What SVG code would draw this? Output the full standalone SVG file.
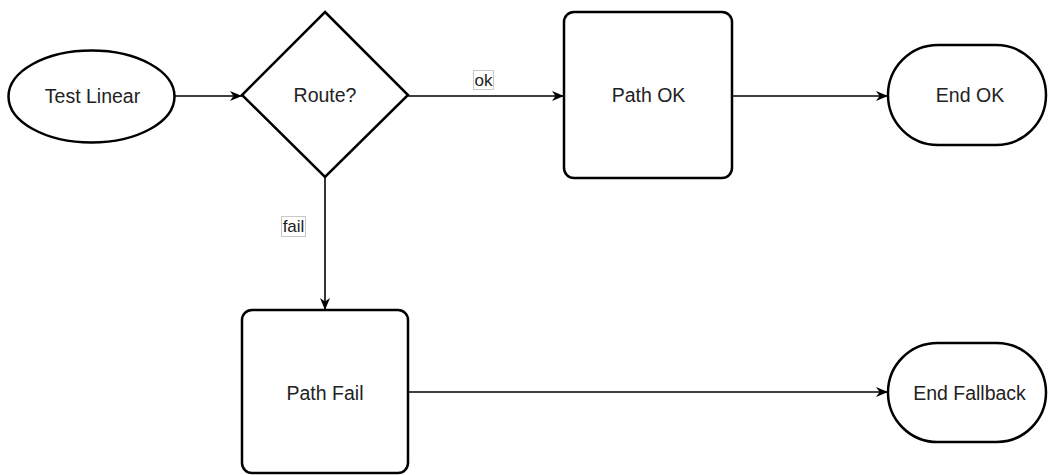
<svg xmlns="http://www.w3.org/2000/svg" width="1048" height="475" viewBox="0 0 1048 475">
  <style>
    .node { fill: #ffffff; stroke: #000000; stroke-width: 2.5; }
    .label { font-family: "Liberation Sans", Arial, Helvetica, sans-serif; font-size: 19.5px; fill: #222222; text-anchor: middle; }
    .edge { fill: none; stroke: #000000; stroke-width: 1.6; }
    .edge-label-bg { fill: #ffffff; stroke: #c8c8c8; stroke-width: 1; }
    .edge-label { font-family: "Liberation Sans", Arial, Helvetica, sans-serif; font-size: 17px; fill: #222222; text-anchor: middle; }
  </style>
  <defs>
    <marker id="arrow" viewBox="0 0 12 10" refX="12" refY="5" markerWidth="12" markerHeight="10" markerUnits="userSpaceOnUse" orient="auto">
      <path d="M0,0 L12,5 L0,10 L3.5,5 Z" fill="#000000"/>
    </marker>
  </defs>

  <rect width="1048" height="475" fill="#ffffff"/>

  <!-- connectors -->
  <g id="connectors">
    <line class="edge" x1="175" y1="96" x2="242" y2="96" marker-end="url(#arrow)"/>
    <line class="edge" x1="408" y1="96" x2="564" y2="96" marker-end="url(#arrow)"/>
    <line class="edge" x1="325" y1="177" x2="325" y2="310" marker-end="url(#arrow)"/>
    <line class="edge" x1="732" y1="96" x2="888" y2="96" marker-end="url(#arrow)"/>
    <line class="edge" x1="408" y1="392" x2="888" y2="392" marker-end="url(#arrow)"/>
    <g id="label-ok">
      <rect class="edge-label-bg" x="473.5" y="70.5" width="20" height="19"/>
      <text class="edge-label" x="483.5" y="86">ok</text>
    </g>
    <g id="label-fail">
      <rect class="edge-label-bg" x="281.5" y="216.5" width="24" height="20"/>
      <text class="edge-label" x="293.5" y="232">fail</text>
    </g>
  </g>

  <!-- nodes -->
  <g id="test-linear">
    <ellipse class="node" cx="91.5" cy="96.5" rx="83" ry="46"/>
    <text class="label" x="92.5" y="102.5">Test Linear</text>
  </g>
  <g id="route">
    <polygon class="node" points="325,12 408,95 325,177 242,95"/>
    <text class="label" x="325" y="102">Route?</text>
  </g>
  <g id="path-ok">
    <rect class="node" x="564" y="12" width="168" height="166" rx="10" ry="10"/>
    <text class="label" x="648.5" y="102">Path OK</text>
  </g>
  <g id="end-ok">
    <rect class="node" x="888" y="45" width="158" height="100" rx="50" ry="50"/>
    <text class="label" x="970" y="102">End OK</text>
  </g>
  <g id="path-fail">
    <rect class="node" x="242" y="310" width="166" height="163" rx="10" ry="10"/>
    <text class="label" x="325" y="399.5">Path Fail</text>
  </g>
  <g id="end-fallback">
    <rect class="node" x="888" y="343" width="158" height="99" rx="49.5" ry="49.5"/>
    <text class="label" x="969.5" y="399.5">End Fallback</text>
  </g>
</svg>
